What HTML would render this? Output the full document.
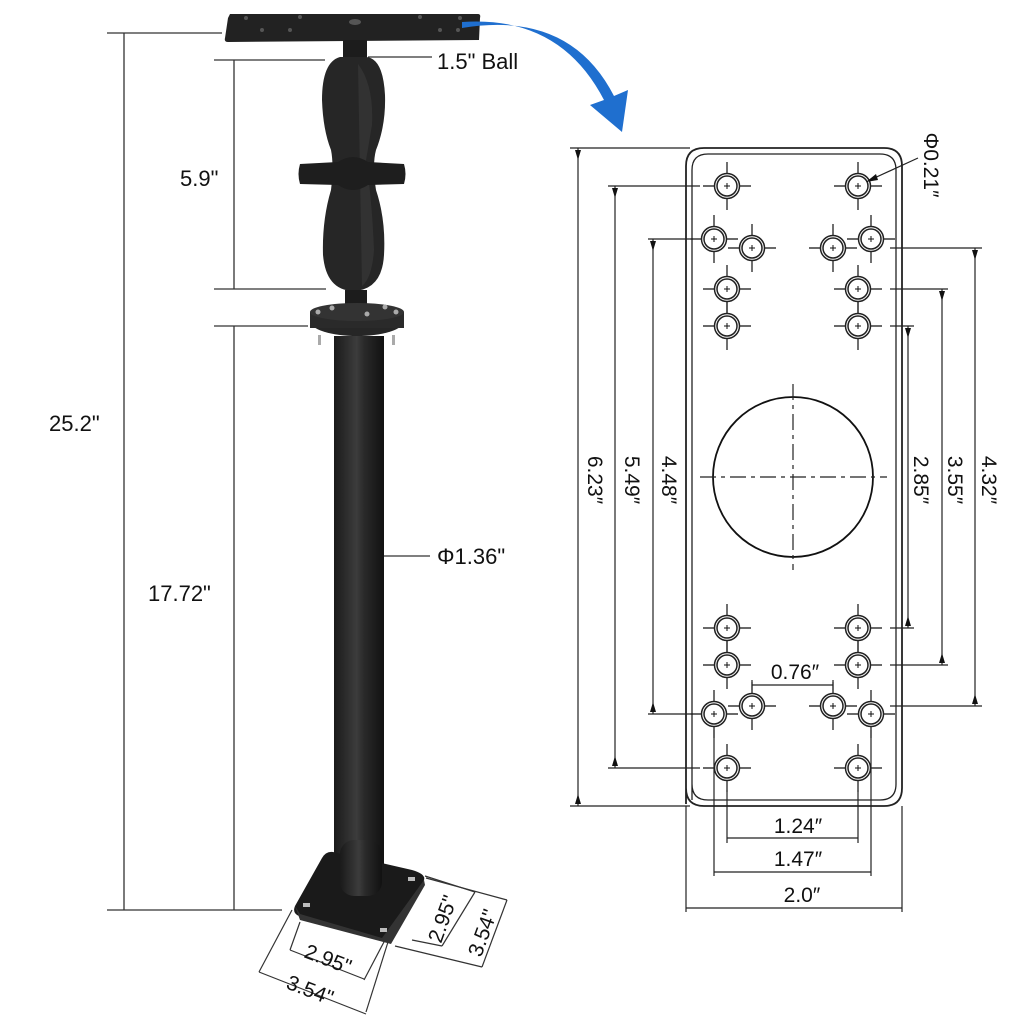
<!DOCTYPE html>
<html><head><meta charset="utf-8"><style>
html,body{margin:0;padding:0;background:#fff;width:1024px;height:1024px;overflow:hidden}
svg{display:block}
text{font-family:"Liberation Sans",sans-serif;fill:#111}
</style></head><body>
<svg width="1024" height="1024" viewBox="0 0 1024 1024" xmlns="http://www.w3.org/2000/svg">
<defs>
<g id="hole">
<line x1="-24" y1="0" x2="24" y2="0" stroke="#111" stroke-width="1.2"/>
<line x1="0" y1="-24" x2="0" y2="24" stroke="#111" stroke-width="1.2"/>
<circle r="12.5" fill="#fff" stroke="#222" stroke-width="1.5"/>
<circle r="10" fill="none" stroke="#222" stroke-width="1.5"/>
<line x1="-3" y1="0" x2="3" y2="0" stroke="#111" stroke-width="1"/>
<line x1="0" y1="-3" x2="0" y2="3" stroke="#111" stroke-width="1"/>
</g>
<linearGradient id="pole" x1="0" x2="1">
<stop offset="0" stop-color="#1a1a1a"/><stop offset="0.45" stop-color="#3c3c3c"/><stop offset="0.6" stop-color="#2a2a2a"/><stop offset="1" stop-color="#111"/>
</linearGradient>
</defs>

<!-- LEFT DIMENSIONS -->
<g stroke="#333" stroke-width="1.3" fill="none">
<line x1="107" y1="33" x2="222" y2="33"/>
<line x1="124" y1="33" x2="124" y2="910"/>
<line x1="107" y1="910" x2="282" y2="910"/>
<line x1="214" y1="60" x2="325" y2="60"/>
<line x1="234" y1="60" x2="234" y2="289"/>
<line x1="214" y1="289" x2="326" y2="289"/>
<line x1="214" y1="326" x2="308" y2="326"/>
<line x1="234" y1="326" x2="234" y2="910"/>
<line x1="368" y1="57" x2="432" y2="57"/>
<line x1="360" y1="556" x2="430" y2="556"/>
</g>
<text x="49" y="431" font-size="22">25.2"</text>
<text x="180" y="186" font-size="22">5.9"</text>
<text x="148" y="601" font-size="22">17.72"</text>
<text x="437" y="69" font-size="22">1.5" Ball</text>
<text x="437" y="564" font-size="22">Φ1.36"</text>

<!-- MOUNT PHOTO -->
<path d="M230,14 L478,14 Q481,14 480,18 L479,40 L228,42 Q224,42 225,38 L228,18 Z" fill="#222"/>
<g fill="#555"><circle cx="246" cy="18" r="2"/><circle cx="262" cy="30" r="2"/><circle cx="290" cy="30" r="2"/><circle cx="300" cy="17" r="2"/><circle cx="420" cy="17" r="2"/><circle cx="440" cy="30" r="2"/><circle cx="460" cy="18" r="2"/><circle cx="458" cy="30" r="2"/><ellipse cx="355" cy="22" rx="6" ry="3"/></g>
<rect x="343" y="40" width="24" height="20" fill="#1c1c1c"/>
<path d="M340,57 Q322,62 322,100 Q323,130 331,150 Q334,165 331,190 Q322,220 323,255 Q326,290 353,291 Q382,290 384,255 Q386,220 376,190 Q372,165 376,150 Q386,125 385,95 Q383,58 366,57 Z" fill="#262626"/>
<path d="M358,64 Q374,85 372,125 L366,160 Q372,200 374,250 Q372,278 362,286 Z" fill="#3a3a3a" opacity="0.6"/>
<path d="M300,164 L338,162 Q353,152 368,162 L404,164 Q407,174 404,184 L368,185 Q353,195 338,185 L300,184 Q297,174 300,164 Z" fill="#1e1e1e"/>
<rect x="345" y="290" width="22" height="20" fill="#1c1c1c"/>
<ellipse cx="357" cy="321" rx="47" ry="15" fill="#262626"/>
<rect x="310" y="312" width="94" height="16" fill="#2a2a2a"/>
<ellipse cx="357" cy="312" rx="47" ry="9" fill="#333"/>
<g fill="#aaa"><circle cx="318" cy="312" r="2.5"/><circle cx="396" cy="312" r="2.5"/><circle cx="332" cy="308" r="2.5"/><circle cx="367" cy="314" r="2.5"/><circle cx="385" cy="307" r="2.5"/><rect x="318" y="335" width="3" height="10"/><rect x="392" y="335" width="3" height="10"/><rect x="366" y="337" width="3" height="10"/></g>
<rect x="334" y="336" width="50" height="560" fill="url(#pole)"/>
<path d="M333,852 L412,870 Q426,874 424,880 L393,936 Q389,942 382,940 L299,916 Q292,913 295,906 L322,858 Q326,851 333,852 Z" fill="#1a1a1a"/>
<path d="M295,906 L300,914 L382,938 L424,880 L425,885 L391,944 L300,920 Z" fill="#333"/>
<rect x="340" y="840" width="42" height="56" rx="14" fill="url(#pole)"/>
<g fill="#bbb"><rect x="303" y="903" width="7" height="4"/><rect x="380" y="928" width="7" height="4"/><rect x="408" y="877" width="7" height="4"/></g>

<!-- base dims -->
<g stroke="#333" stroke-width="1.2" fill="none">
<line x1="292" y1="910" x2="259" y2="972"/>
<line x1="300" y1="922" x2="290" y2="950"/>
<line x1="385" y1="940" x2="364" y2="980"/>
<line x1="388" y1="942" x2="366" y2="1012"/>
<line x1="290" y1="950" x2="364" y2="979"/>
<line x1="259" y1="972" x2="366" y2="1014"/>
<line x1="425" y1="876" x2="475" y2="892"/>
<line x1="426" y1="878" x2="507" y2="900"/>
<line x1="412" y1="940" x2="442" y2="946"/>
<line x1="395" y1="946" x2="482" y2="967"/>
<line x1="475" y1="892" x2="442" y2="946"/>
<line x1="507" y1="900" x2="482" y2="967"/>
</g>
<text font-size="21" transform="translate(303,957) rotate(21)">2.95"</text>
<text font-size="21" transform="translate(285,988) rotate(21)">3.54"</text>
<text font-size="21" transform="translate(441,944) rotate(-70)">2.95"</text>
<text font-size="21" transform="translate(481,958) rotate(-70)">3.54"</text>

<!-- BLUE ARROW -->
<path d="M462,22 Q560,15 604,100 L590,105 L622,132 L628,90 L614,96 Q570,10 462,28 Z" fill="#1f6fcf"/>

<!-- RIGHT DRAWING -->
<path d="M686,804 L686,166 Q686,148 704,148 L884,148 Q902,148 902,166 L902,788 Q902,806 884,806 L704,806 Q686,806 686,788" fill="none" stroke="#222" stroke-width="1.8"/>
<path d="M692,800 L692,170 Q692,154 708,154 L880,154 Q896,154 896,170 L896,784 Q896,800 880,800 L708,800 Q692,800 692,784 Z" fill="none" stroke="#222" stroke-width="1.3"/>
<circle cx="793" cy="477" r="80" fill="none" stroke="#111" stroke-width="1.8"/>
<g stroke="#222" stroke-width="1.2" stroke-dasharray="16,5,4,5">
<line x1="700" y1="477" x2="887" y2="477"/>
<line x1="793" y1="384" x2="793" y2="570"/>
</g>
<use href="#hole" x="727" y="186"/><use href="#hole" x="858" y="186"/>
<use href="#hole" x="714" y="239"/><use href="#hole" x="752" y="248"/>
<use href="#hole" x="833" y="248"/><use href="#hole" x="871" y="239"/>
<use href="#hole" x="727" y="289"/><use href="#hole" x="858" y="289"/>
<use href="#hole" x="727" y="326"/><use href="#hole" x="858" y="326"/>
<use href="#hole" x="727" y="628"/><use href="#hole" x="858" y="628"/>
<use href="#hole" x="727" y="665"/><use href="#hole" x="858" y="665"/>
<use href="#hole" x="714" y="714"/><use href="#hole" x="752" y="706"/>
<use href="#hole" x="833" y="706"/><use href="#hole" x="871" y="714"/>
<use href="#hole" x="727" y="768"/><use href="#hole" x="858" y="768"/>

<g stroke="#222" stroke-width="1.2" fill="none">
<line x1="570" y1="148" x2="690" y2="148"/><line x1="570" y1="806" x2="690" y2="806"/>
<line x1="578" y1="148" x2="578" y2="806"/>
<line x1="608" y1="186" x2="700" y2="186"/><line x1="608" y1="768" x2="700" y2="768"/>
<line x1="615" y1="186" x2="615" y2="768"/>
<line x1="648" y1="239" x2="690" y2="239"/><line x1="648" y1="714" x2="690" y2="714"/>
<line x1="653" y1="239" x2="653" y2="714"/>
<line x1="890" y1="326" x2="914" y2="326"/><line x1="890" y1="628" x2="914" y2="628"/>
<line x1="908" y1="326" x2="908" y2="628"/>
<line x1="890" y1="289" x2="948" y2="289"/><line x1="890" y1="665" x2="948" y2="665"/>
<line x1="942" y1="289" x2="942" y2="665"/>
<line x1="890" y1="248" x2="982" y2="248"/><line x1="890" y1="706" x2="982" y2="706"/>
<line x1="975" y1="248" x2="975" y2="706"/>
<line x1="727" y1="790" x2="727" y2="843"/><line x1="858" y1="790" x2="858" y2="843"/>
<line x1="727" y1="838" x2="858" y2="838"/>
<line x1="714" y1="730" x2="714" y2="876"/><line x1="871" y1="730" x2="871" y2="876"/>
<line x1="714" y1="872" x2="871" y2="872"/>
<line x1="686" y1="806" x2="686" y2="912"/><line x1="902" y1="806" x2="902" y2="912"/>
<line x1="686" y1="908" x2="902" y2="908"/>
<line x1="752" y1="680" x2="752" y2="690"/><line x1="833" y1="680" x2="833" y2="690"/>
<line x1="752" y1="685" x2="833" y2="685"/>
<line x1="918" y1="158" x2="870" y2="180"/>
</g>
<path d="M866,182 L876,174 L878,180 Z" fill="#111"/>
<g fill="#111">
<path d="M575,150 L581,150 L578,160 Z"/><path d="M575,804 L581,804 L578,794 Z"/>
<path d="M612,188 L618,188 L615,198 Z"/><path d="M612,766 L618,766 L615,756 Z"/>
<path d="M650,241 L656,241 L653,251 Z"/><path d="M650,712 L656,712 L653,702 Z"/>
<path d="M905,328 L911,328 L908,338 Z"/><path d="M905,626 L911,626 L908,616 Z"/>
<path d="M939,291 L945,291 L942,301 Z"/><path d="M939,663 L945,663 L942,653 Z"/>
<path d="M972,250 L978,250 L975,260 Z"/><path d="M972,704 L978,704 L975,694 Z"/>
</g>
<g font-size="21">
<text transform="translate(588,480) rotate(90)" text-anchor="middle">6.23″</text>
<text transform="translate(625,480) rotate(90)" text-anchor="middle">5.49″</text>
<text transform="translate(662,480) rotate(90)" text-anchor="middle">4.48″</text>
<text transform="translate(914,480) rotate(90)" text-anchor="middle">2.85″</text>
<text transform="translate(948,480) rotate(90)" text-anchor="middle">3.55″</text>
<text transform="translate(982,480) rotate(90)" text-anchor="middle">4.32″</text>
<text transform="translate(924,165) rotate(90)" text-anchor="middle">Φ0.21″</text>
<text x="798" y="833" text-anchor="middle">1.24″</text>
<text x="798" y="866" text-anchor="middle">1.47″</text>
<text x="802" y="902" text-anchor="middle">2.0″</text>
<text x="795" y="679" text-anchor="middle">0.76″</text>
</g>
</svg>
</body></html>
